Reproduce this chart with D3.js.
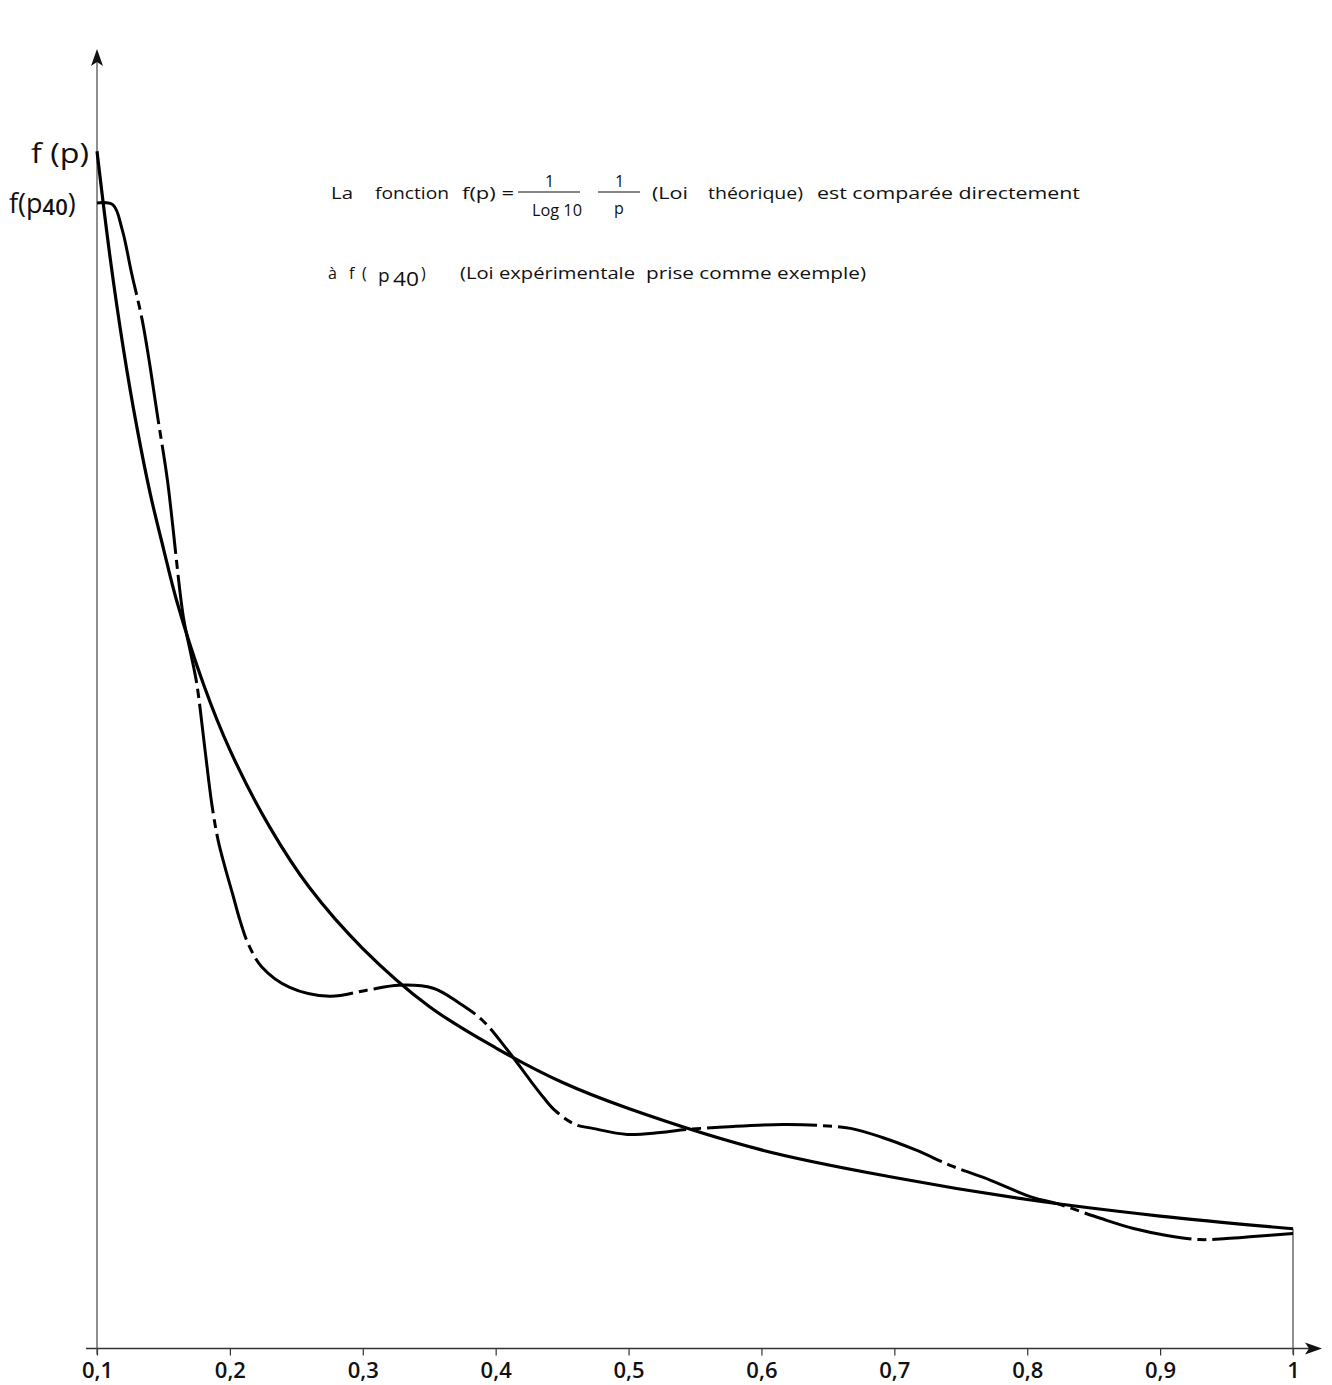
<!DOCTYPE html>
<html>
<head>
<meta charset="utf-8">
<script src="https://cdn.jsdelivr.net/npm/d3@7/dist/d3.min.js"></script>
<style>
  body { margin: 0; background: #fff; }
  svg { display: block; }
  text { font-family: "Open Sans", "Liberation Sans", sans-serif; fill: #111; }
</style>
</head>
<body>
<div id="chart"></div>
<script>
// x ticks
const tickP = [0.1, 0.2, 0.3, 0.4, 0.5, 0.6, 0.7, 0.8, 0.9, 1];

// loi théorique f(p)
const theoryP = [0.1, 0.11, 0.12, 0.13, 0.14, 0.15, 0.16, 0.18, 0.2, 0.23, 0.26, 0.3, 0.35, 0.4, 0.45, 0.5, 0.6, 0.7, 0.8, 0.9, 1.0];
const theoryF = [4.34, 3.95, 3.62, 3.34, 3.10, 2.90, 2.71, 2.41, 2.17, 1.89, 1.67, 1.45, 1.24, 1.09, 0.965, 0.87, 0.72, 0.62, 0.54, 0.48, 0.434];

// loi expérimentale f(p40)
const expP = [0.1, 0.112, 0.119, 0.126, 0.134, 0.140, 0.146, 0.153, 0.165, 0.170, 0.175, 0.1813, 0.1865, 0.1911, 0.1963, 0.2023, 0.2076, 0.2136, 0.2242, 0.245, 0.275, 0.303, 0.327, 0.353, 0.373, 0.390, 0.409, 0.426, 0.436, 0.4446, 0.4597, 0.473, 0.499, 0.524, 0.544, 0.579, 0.616, 0.642, 0.667, 0.691, 0.717, 0.742, 0.767, 0.804, 0.822, 0.855, 0.880, 0.905, 0.930, 0.950, 0.970, 1.0];
const expF = [4.153, 4.146, 4.055, 3.899, 3.729, 3.558, 3.366, 3.148, 2.651, 2.532, 2.412, 2.169, 1.970, 1.843, 1.745, 1.643, 1.552, 1.469, 1.382, 1.309, 1.277, 1.299, 1.317, 1.306, 1.251, 1.190, 1.081, 0.972, 0.910, 0.863, 0.8125, 0.798, 0.776, 0.783, 0.794, 0.805, 0.812, 0.809, 0.798, 0.765, 0.718, 0.664, 0.620, 0.548, 0.526, 0.472, 0.435, 0.410, 0.395, 0.399, 0.406, 0.417];

const W = 1332, H = 1385;

const svg = d3.select('#chart')
    .append('svg')
    .attr('width', W)
    .attr('height', H);

const x = d3.scaleLinear().domain([0.1, 1]).range([97, 1293]);
const y = d3.scaleLinear().domain([0, 4.7]).range([1348.5, 52]);

// x axis
const xAxis = svg.append('g')
    .attr('transform', 'translate(0,' + y(0) + ')')
    .call(d3.axisBottom(x)
        .tickValues(tickP)
        .tickSize(7)
        .tickSizeOuter(0)
        .tickPadding(7)
        .tickFormat(d => d === 1 ? '1' : d3.format('.1f')(d).replace('.', ',')));
xAxis.select('.domain').remove();
xAxis.selectAll('line').attr('stroke', '#333').attr('stroke-width', 1.2);
xAxis.selectAll('text')
    .style('font-size', '22px')
    .style('font-weight', '600')
    .style('font-family', '"Open Sans", sans-serif')
    .attr('fill', '#111');

svg.append('line')
    .attr('x1', 86).attr('x2', 1312)
    .attr('y1', y(0)).attr('y2', y(0))
    .attr('stroke', '#333').attr('stroke-width', 1.3);
svg.append('path')
    .attr('d', `M1322,${y(0)} L1305,${y(0) - 6} L1309,${y(0)} L1305,${y(0) + 6} Z`)
    .attr('fill', '#111');

// y axis
svg.append('line')
    .attr('x1', x(0.1)).attr('x2', x(0.1))
    .attr('y1', y(0) + 6).attr('y2', 60)
    .attr('stroke', '#444').attr('stroke-width', 1.2);
svg.append('path')
    .attr('d', `M${x(0.1)},49 L${x(0.1) - 6},66 L${x(0.1)},62 L${x(0.1) + 6},66 Z`)
    .attr('fill', '#111');

// vertical at p = 1
svg.append('line')
    .attr('x1', x(1)).attr('x2', x(1))
    .attr('y1', y(theoryF[theoryF.length - 1])).attr('y2', y(0) + 6)
    .attr('stroke', '#444').attr('stroke-width', 1.2);

const line = d3.line()
    .curve(d3.curveCatmullRom.alpha(0.5))
    .x(d => x(d[0]))
    .y(d => y(d[1]));

// theory
svg.append('path')
    .datum(theoryP.map((p, i) => [p, theoryF[i]]))
    .attr('d', line)
    .attr('fill', 'none')
    .attr('stroke', '#000')
    .attr('stroke-width', 3.2);

// experimental, dash-dot
svg.append('path')
    .datum(expP.map((p, i) => [p, expF[i]]))
    .attr('d', line)
    .attr('fill', 'none')
    .attr('stroke', '#000')
    .attr('stroke-width', 3)
    .attr('stroke-dasharray', '110,6,9,6');

// y labels
svg.append('text')
    .attr('x', 31).attr('y', 163)
    .attr('font-size', 27)
    .attr('textLength', 58).attr('lengthAdjust', 'spacingAndGlyphs')
    .text('f (p)');
const fp40 = svg.append('text')
    .attr('x', 9).attr('y', 213)
    .attr('font-size', 27);
fp40.append('tspan').text('f(p');
fp40.append('tspan').attr('font-size', 22).attr('font-weight', 600).attr('dy', 2).text('40');
fp40.append('tspan').attr('dy', -2).text(')');

// title
const t = svg.append('g');
const chunk = (txt, x0, y0, len, size) => {
    const el = t.append('text')
        .attr('x', x0).attr('y', y0)
        .attr('font-size', size || 16)
        .text(txt);
    if (len) el.attr('textLength', len).attr('lengthAdjust', 'spacingAndGlyphs');
    return el;
};

chunk('La', 331, 199, 22);
chunk('fonction', 375, 199, 74);
chunk('f(p) =', 462, 199, 52);
chunk('1', 545, 187);
t.append('line').attr('x1', 518).attr('x2', 580).attr('y1', 192).attr('y2', 192).attr('stroke', '#111').attr('stroke-width', 1.2);
chunk('Log 10', 532, 216, 50);
chunk('1', 615, 187);
t.append('line').attr('x1', 598).attr('x2', 640).attr('y1', 192).attr('y2', 192).attr('stroke', '#111').attr('stroke-width', 1.2);
chunk('p', 614, 214);
chunk('(Loi', 652, 199, 36);
chunk('théorique)', 708, 199, 95);
chunk('est comparée directement', 817, 199, 263);

chunk('à', 328, 279);
chunk('f', 349, 279);
chunk('(', 362, 279);
chunk('p', 378, 282, null, 19);
chunk('40', 393, 286, 26, 20);
chunk(')', 421, 279);
chunk('(Loi expérimentale', 460, 279, 175);
chunk('prise comme exemple)', 646, 279, 220);
</script>
</body>
</html>
